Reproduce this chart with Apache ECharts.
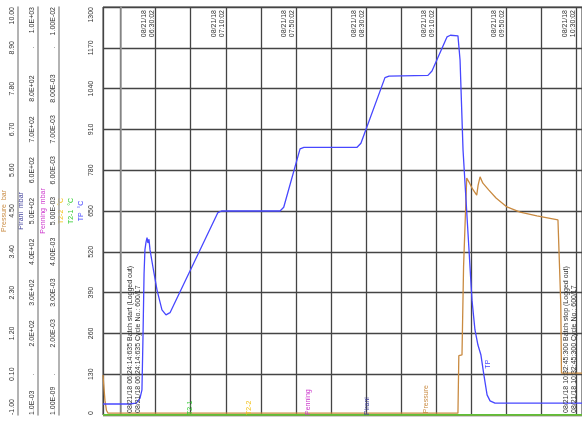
<!DOCTYPE html>
<html><head><meta charset="utf-8">
<script src="https://cdn.jsdelivr.net/npm/echarts@6/dist/echarts.min.js"></script>
<style>html,body{margin:0;padding:0;background:#fff}#c{width:582px;height:421px}</style>
</head><body><div id="c"></div>
<script>
const FONT = '"Liberation Sans", Arial, sans-serif';
// x values: minutes after 08/21/18 06:10:02
const xMin = -10, xMax = 263;
const dateText = '08/21/18';
const timeTickMinutes = [20, 60, 100, 140, 180, 220, 260];
const timeTickLabels = ['06:30:02', '07:10:02', '07:50:02', '08:30:02', '09:10:02', '09:50:02', '10:30:02'];

// TP (°C)
const tpTime  = [-10, 5, 9, 11.1, 12.2, 12.8, 13.4, 13.9, 14.5, 15.1, 15.6, 16.2, 16.8, 18.5, 20.8, 23.6, 25.9, 28.2, 55.5, 57.5, 90.9, 93, 102.3, 104.5, 134.8, 137, 150.7, 153, 175.2, 177.5, 186.1, 188, 192.3, 193.5, 195.2, 196.9, 198.6, 200.3, 202.0, 203.7, 205.4, 207.1, 208.9, 210.6, 213.4, 263];
const tpValue = [35, 35, 38, 54, 80, 250, 450, 526, 550, 565, 548, 560, 526, 470, 398, 335, 319, 326, 645, 650, 650, 662, 848, 853, 853, 866, 1075, 1080, 1082, 1096, 1205, 1210, 1208, 1131, 844, 685, 526, 366, 271, 223, 191, 127, 64, 45, 38, 38];
// Pressure (bar)
const pressureTime  = [-10, -8.9, -8, -7.15, 192.3, 192.8, 194.6, 195.5, 197.3, 198.6, 200.5, 203, 203.8, 204.9, 206.5, 209.8, 214, 220.2, 227.7, 237.3, 249.3, 250.9, 251.3, 263];
const pressureValue = [0.08, -0.6, -0.88, -0.95, -0.95, 0.6, 0.62, 3.0, 5.39, 5.28, 5.1, 4.93, 5.2, 5.42, 5.25, 5.07, 4.85, 4.61, 4.47, 4.37, 4.26, 2.0, 0.13, 0.13];
// T2-1, T2-2 (°C), Penning, Pirani (mbar)
const t21Time = [-10, 263], t21Value = [0, 0];
const t22Time = [-10, 263], t22Value = [0, 0];
const penningTime = [-10, 263], penningValue = [1e-9, 1e-9];
const piraniTime = [-10, 263], piraniValue = [0.001, 0.001];

// where each series carries its name tag (minutes)
const tagTime = {'T2-1': 39.6, 'T2-2': 73.2, 'Penning': 106.8, 'Pirani': 140.5, 'Pressure': 174.1, 'TP': 207.6};

// events
const eventTime = [14.21, 262.72];
const eventLine1 = ['08/21/18 06:24:14:635 Batch start (Logged out)', '08/21/18 10:32:45:300 Batch stop (Logged out)'];
const eventLine2 = ['08/21/18 06:24:14:635 Cycle No.: 600/17', '08/21/18 10:32:45:300 Cycle No.: 600/17'];

function interp(ts, vs, t) {
  for (let i = 0; i < ts.length - 1; i++) {
    if (t >= ts[i] && t <= ts[i + 1]) {
      const f = (t - ts[i]) / (ts[i + 1] - ts[i]);
      return vs[i] + f * (vs[i + 1] - vs[i]);
    }
  }
  return vs[vs.length - 1];
}
function fmtExp(v, d) {
  const s = v.toExponential(d).split('e');
  const e = parseInt(s[1], 10);
  return s[0] + 'E' + (e < 0 ? '-' : '+') + String(Math.abs(e)).padStart(2, '0');
}

const C = {TP: '#4747ff', Pressure: '#c98a40', 'T2-1': '#33cc33', 'T2-2': '#f2c21c', Penning: '#cc35cc', Pirani: '#3d3d99'};

function lineSeries(name, yIdx, ts, vs, tagOpts, extra) {
  const t = tagTime[name];
  return Object.assign({
    name, type: 'line', yAxisIndex: yIdx, data: ts.map((x, i) => [x, vs[i]]),
    showSymbol: false, symbol: 'none', animation: false, silent: true,
    lineStyle: {color: C[name], width: 1.3}, itemStyle: {color: C[name]},
    markPoint: {
      symbol: 'circle', symbolSize: 1, itemStyle: {color: 'rgba(0,0,0,0)'}, silent: true, animation: false,
      data: [{coord: [t, interp(ts, vs, t)],
        label: Object.assign({show: true, formatter: name, rotate: 90, align: 'left', verticalAlign: 'middle',
          position: 'inside', fontSize: 7, fontFamily: FONT, color: C[name]}, tagOpts || {})}]
    }
  }, extra || {});
}

const yBase = (offset, min, max, interval, fmt, name, nameGap, nameStyle) => ({
  type: 'value', position: 'left', offset, min, max, interval,
  axisLine: {show: true, lineStyle: {color: '#9a9a9a', width: 1.5}},
  axisTick: {show: false}, splitLine: {show: false},
  axisLabel: {rotate: 90, margin: 2, fontSize: 7, fontFamily: FONT, color: '#333', formatter: fmt,
    alignMinLabel: 'left', alignMaxLabel: 'right'},
  name, nameLocation: 'middle', nameRotate: 90, nameGap, nameMoveOverlap: false,
  nameTextStyle: Object.assign({fontSize: 7, fontFamily: FONT}, nameStyle)
});

const yAxes = [
  Object.assign(yBase(6, 0, 1300, 130, v => String(Math.round(v)),
    '{a|T2-2  °C}\n{b|T2-1  °C}\n{c|TP  °C}', 11,
    {lineHeight: 10, rich: {a: {color: C['T2-2'], fontSize: 7, fontFamily: FONT}, b: {color: C['T2-1'], fontSize: 7, fontFamily: FONT}, c: {color: C.TP, fontSize: 7, fontFamily: FONT}}}),
    {splitLine: {show: true, lineStyle: {color: '#444', width: 1.3}}}),
  yBase(44, 1e-9, 1e-2, 1e-3, (v, i) => (i === 1 || i === 9) ? '.' : fmtExp(v, 2), 'Penning  mbar', 12, {color: C.Penning}),
  yBase(65, 0.001, 1000, 100, (v, i) => (i === 1 || i === 9) ? '.' : fmtExp(v, 1), 'Pirani  mbar', 13, {color: C.Pirani}),
  yBase(85, -1, 10, 1.1, v => v.toFixed(2), 'Pressure  bar', 10, {color: C.Pressure})
];

const eventSeries = {
  type: 'line', data: [], yAxisIndex: 0, silent: true, animation: false,
  markLine: {
    silent: true, animation: false, symbol: ['none', 'none'],
    lineStyle: {color: 'rgba(0,0,0,0)', width: 1},
    label: {show: true, position: 'insideStartTop', distance: [2, 3], fontSize: 7, fontFamily: FONT, color: '#333', lineHeight: 8},
    data: eventTime.map((t, i) => ({xAxis: t, label: {formatter: eventLine1[i] + '\n' + eventLine2[i]}}))
  }
};

const option = {
  backgroundColor: '#fff',
  animation: false,
  grid: {left: 103, right: 0, top: 7, bottom: 6, show: true, borderColor: '#444', borderWidth: 1, backgroundColor: '#fff',
    containLabel: false, outerBoundsMode: 'none'},
  xAxis: {
    type: 'value', position: 'top', min: xMin, max: xMax, splitNumber: 13,
    axisLine: {show: false}, axisTick: {show: false},
    splitLine: {show: true, lineStyle: {color: '#444', width: 1.3}},
    axisLabel: {
      inside: true, rotate: 90, margin: 3, verticalAlign: 'bottom', fontSize: 7, fontFamily: FONT, color: '#333', lineHeight: 8,
      formatter: v => { const i = timeTickMinutes.indexOf(Math.round(v)); return i < 0 ? '' : dateText + '\n' + timeTickLabels[i]; }
    }
  },
  yAxis: yAxes,
  series: [
    lineSeries('Pirani', 2, piraniTime, piraniValue),
    lineSeries('Penning', 1, penningTime, penningValue),
    lineSeries('T2-2', 0, t22Time, t22Value),
    lineSeries('T2-1', 0, t21Time, t21Value),
    lineSeries('Pressure', 3, pressureTime, pressureValue),
    lineSeries('TP', 0, tpTime, tpValue, {offset: [12, 3]}),
    eventSeries
  ]
};
const chart = echarts.init(document.getElementById('c'));
chart.setOption(option);
</script></body></html>
